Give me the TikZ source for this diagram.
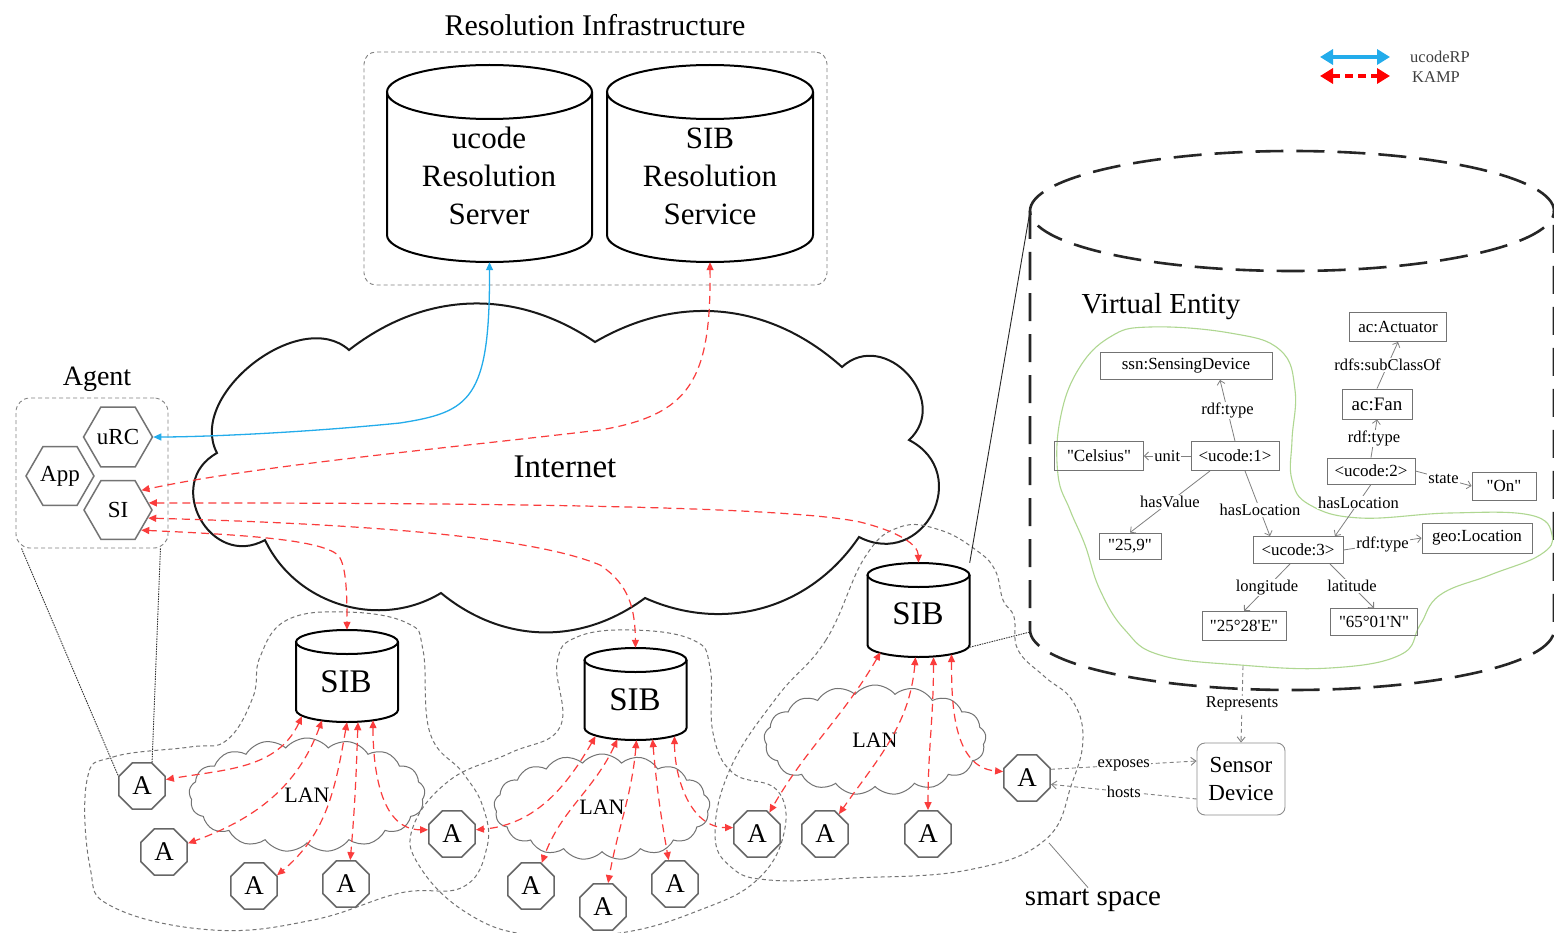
\documentclass[tikz,border=0pt]{standalone}
\usepackage{fontspec}
\setmainfont{Liberation Serif}[Ligatures=TeXOff]
\usetikzlibrary{shapes.geometric,shapes.symbols,arrows.meta,calc}
\definecolor{kred}{RGB}{250,60,60}
\definecolor{kblue}{RGB}{35,172,235}
\definecolor{vgreen}{RGB}{175,215,145}
\newcommand{\fsz}[1]{\fontsize{#1}{#1}\selectfont}
% name, cx, top-ellipse centre y (px), rx, distance between ellipse centres, ry, style
\newcommand{\dbcyl}[7]{%
  \node[inner sep=0pt, minimum width=#4*2pt, minimum height=(#5+2*#6)*1pt] (#1) at (#2,{-(#3+#5/2)}) {};
  \draw[#7] (#2-#4,-#3) -- (#2-#4,{-(#3+#5)}) arc[start angle=180,end angle=360,x radius=#4pt,y radius=#6pt] -- (#2+#4,-#3);
  \draw[#7] (#2,-#3) ellipse[x radius=#4pt,y radius=#6pt];
}
\tikzset{
  cylstyle/.style={line width=2pt, draw=black},
  vecyl/.style={line width=2.6pt, draw=black!85, dash pattern=on 28pt off 13pt},
  kamp/.style={draw=kred, line width=1.2pt, dash pattern=on 8pt off 5pt, {Triangle[length=8pt,width=7pt]}-{Triangle[length=8pt,width=7pt]}},
  ucrp/.style={draw=kblue, line width=1.3pt, {Triangle[length=8pt,width=7pt]}-{Triangle[length=8pt,width=7pt]}},
  blob/.style={draw=black!55, line width=1pt, dash pattern=on 4pt off 3pt},
  octa/.style={regular polygon, regular polygon sides=8, draw=black!60, line width=1.6pt, minimum size=50pt, inner sep=0pt, font=\fsz{27}},
  hexa/.style={regular polygon, regular polygon sides=6, draw=black!55, line width=1.5pt, minimum size=68pt, inner sep=0pt, font=\fsz{23}},
  lan/.style={cloud, cloud puffs=17, cloud puff arc=100, cloud ignores aspect, draw=black!55, line width=1pt, font=\fsz{22}},
  vebox/.style={draw=black!55, line width=0.9pt, inner sep=0pt, font=\fsz{17}},
  vedge/.style={draw=black!50, line width=0.8pt, -{Straight Barb[length=4pt,width=8pt]}},
  velab/.style={fill=white, inner sep=1pt, font=\fsz{16.5}},
  gdash/.style={draw=black!50, line width=0.9pt, dash pattern=on 4pt off 3pt, -{Straight Barb[length=5pt,width=8pt]}},
  glab/.style={fill=white, inner sep=1pt, font=\fsz{16.5}},
  tlink/.style={draw=black!80, line width=0.9pt, dash pattern=on 1.5pt off 1pt},
  title/.style={inner sep=0pt},
}
\begin{document}
\begin{tikzpicture}[x=1pt,y=1pt]
\useasboundingbox (0,0) rectangle (1554,-933);
\clip (0,0) rectangle (1554,-933);
\fill[white] (0,0) rectangle (1554,-933);

% ---------- Resolution infrastructure ----------
\node[title, font=\fsz{30}] (restitle) at (595,-25) {Resolution Infrastructure};
\node[draw=black!50, line width=0.9pt, dash pattern=on 4pt off 3pt, rounded corners=12pt, minimum width=463pt, minimum height=233pt] (resbox) at (595.5,-168.5) {};
\dbcyl{ucs}{489.5}{92}{102.5}{143}{27}{cylstyle}
\dbcyl{sibrs}{710}{92}{103}{143}{27}{cylstyle}
\node[align=center, font=\fontsize{31}{38}\selectfont, inner sep=0pt] (ucstxt) at (489,-176) {ucode\\Resolution\\Server};
\node[align=center, font=\fontsize{31}{38}\selectfont, inner sep=0pt] (sibrstxt) at (710,-176) {SIB\\Resolution\\Service};

% ---------- Legend ----------
\coordinate (lbA) at (1320,-57); \coordinate (lbB) at (1390,-57);
\coordinate (lrA) at (1320,-76); \coordinate (lrB) at (1390,-76);
\draw[draw=kblue, line width=3.5pt, {Triangle[length=13pt,width=15pt]}-{Triangle[length=13pt,width=15pt]}] (lbA) -- (lbB);
\draw[draw=red, line width=4pt, dash pattern=on 8pt off 5pt, {Triangle[length=13pt,width=15pt]}-{Triangle[length=13pt,width=15pt]}] (lrA) -- (lrB);
\node[anchor=west, font=\fsz{16.5}, text=black!75, inner sep=0pt] (legu) at (1410,-57) {ucodeRP};
\node[anchor=west, font=\fsz{16.5}, text=black!75, inner sep=0pt] (legk) at (1412,-77) {KAMP};

% ---------- Agent ----------
\node[title, font=\fsz{28}] (agenttitle) at (97,-379) {Agent};
\node[draw=black!50, line width=0.9pt, dash pattern=on 4pt off 3pt, rounded corners=14pt, minimum width=152pt, minimum height=150pt] (agentbox) at (92,-473) {};
\node[hexa] (urc) at (118,-437) {uRC};
\node[hexa] (app) at (60,-476) {App};
\node[hexa] (si) at (118,-510) {SI};

% ---------- Internet cloud ----------
\draw[line width=2pt, draw=black!90] (217,-453) to[bend left=80] (349,-350) to[bend left=36] (595,-342) to[bend left=36] (842,-367) to[bend left=90, looseness=1.5] (909,-440) to[bend left=90, looseness=1.7] (859,-537) to[bend left=40] (645,-598) to[bend left=38] (441,-593) to[bend left=48] (265,-540) to[bend left=90, looseness=1.6] (217,-453) -- cycle;
\node[font=\fsz{33}] (inettxt) at (565,-467) {Internet};

% ---------- Smart spaces ----------
\draw[blob] plot[smooth cycle, tension=0.7] coordinates {(87,-780) (113,-757) (190,-747) (227,-740) (253,-697) (260,-657) (287,-620) (347,-612) (407,-623) (423,-650) (430,-733) (463,-773) (483,-807) (487,-847) (463,-887) (400,-893) (313,-920) (213,-930) (113,-907) (90,-867)};
\draw[blob] plot[smooth cycle, tension=0.7] coordinates {(557,-663) (577,-637) (633,-630) (693,-640) (710,-667) (713,-733) (733,-773) (777,-790) (784,-833) (757,-880) (700,-910) (620,-933) (530,-935) (467,-913) (420,-867) (413,-827) (450,-780) (510,-753) (560,-727)};
\draw[blob] plot[smooth cycle, tension=0.7] coordinates {(865,-557) (826,-640) (777,-697) (731,-767) (715,-833) (731,-867) (769,-880) (853,-878) (968,-870) (1045,-840) (1072,-783) (1083,-737) (1072,-700) (1045,-677) (1018,-650) (1014,-617) (1003,-600) (995,-570) (976,-550) (940,-530) (900,-527)};

% ---------- LAN clouds ----------
\node[lan, minimum width=236pt, minimum height=114pt] (lan1) at (307,-795) {LAN};
\node[lan, minimum width=216pt, minimum height=106pt] (lan2) at (602,-807) {LAN};
\node[lan, minimum width=222pt, minimum height=110pt] (lan3) at (875,-740) {LAN};

% ---------- SIBs ----------
\dbcyl{sib1}{347}{642}{51}{68}{12}{cylstyle}
\dbcyl{sib2}{635.5}{660}{51}{68}{12}{cylstyle}
\dbcyl{sib3}{918.5}{575}{51}{70}{12}{cylstyle}
\node[font=\fsz{33}, inner sep=0pt] (sib1txt) at (346,-682) {SIB};
\node[font=\fsz{33}, inner sep=0pt] (sib2txt) at (635,-700) {SIB};
\node[font=\fsz{33}, inner sep=0pt] (sib3txt) at (918,-614) {SIB};

% ---------- Agents (A) ----------
\node[octa] (a1) at (142,-786) {A};
\node[octa] (a2) at (164,-852) {A};
\node[octa] (a3) at (254,-886) {A};
\node[octa] (a4) at (346,-884) {A};
\node[octa] (a5) at (452,-834) {A};
\node[octa] (a6) at (531,-886) {A};
\node[octa] (a7) at (603,-907) {A};
\node[octa] (a8) at (675,-884) {A};
\node[octa] (a9) at (757,-834) {A};
\node[octa] (a10) at (825,-834) {A};
\node[octa] (a11) at (928,-834) {A};
\node[octa] (a12) at (1027,-778) {A};

% agent box to A
\draw[tlink] ($(agentbox.south west)+(6,0)$) -- (a1.157.5);
\draw[tlink] ($(agentbox.south east)+(-8,0)$) -- (a1.67.5);

% ---------- Big dashed cylinder (virtual entity store) ----------
\dbcyl{bigve}{1292}{211}{262}{419}{60}{vecyl}
\coordinate (vetl) at (1030,-211);
\coordinate (vebl) at (1030,-632);
\draw[draw=black!85, line width=0.9pt] (sib3.north east) -- (vetl);
\draw[tlink] ($(sib3.south east)+(0,10)$) -- (vebl);
\node[title, font=\fsz{29}] (vetitle) at (1161,-307) {Virtual Entity};

% green grouping
\draw[draw=vgreen, line width=1.1pt] plot[smooth cycle, tension=0.7] coordinates {(1150,-327) (1230,-333) (1280,-350) (1295,-390) (1292,-440) (1292,-480) (1310,-505) (1360,-518) (1450,-513) (1530,-515) (1552,-535) (1540,-555) (1490,-575) (1440,-595) (1420,-625) (1400,-655) (1330,-668) (1240,-665) (1160,-655) (1125,-630) (1100,-590) (1085,-545) (1070,-510) (1058,-475) (1060,-420) (1078,-370) (1110,-337)};

% VE nodes
\node[vebox, minimum width=97pt, minimum height=29pt] (act) at (1398,-327) {ac:Actuator};
\node[vebox, minimum width=172pt, minimum height=27pt] (ssn) at (1186,-366) {ssn:SensingDevice};
\node[vebox, minimum width=70pt, minimum height=30pt, font=\fsz{19}] (fan) at (1377,-404) {ac:Fan};
\node[vebox, minimum width=89pt, minimum height=29pt] (cel) at (1099,-456) {"Celsius"};
\node[vebox, minimum width=88pt, minimum height=29pt] (u1) at (1235,-456) {<ucode:1>};
\node[vebox, minimum width=88pt, minimum height=26pt] (u2) at (1371,-471) {<ucode:2>};
\node[vebox, minimum width=64pt, minimum height=28pt] (on) at (1504,-486) {"On"};
\node[vebox, minimum width=62pt, minimum height=26pt] (v259) at (1130,-546) {"25,9"};
\node[vebox, minimum width=90pt, minimum height=27pt] (u3) at (1298,-550) {<ucode:3>};
\node[vebox, minimum width=110pt, minimum height=30pt] (geo) at (1477,-538) {geo:Location};
\node[vebox, minimum width=84pt, minimum height=29pt] (lon) at (1244,-626) {"25°28'E"};
\node[vebox, minimum width=87pt, minimum height=27pt] (lat) at (1374,-622) {"65°01'N"};

% VE edges
\draw[vedge] (u1.north) -- node[velab]{rdf:type} ($(ssn.south)+(34,0)$);
\draw[vedge] (u1.west) -- node[velab]{unit} (cel.east);
\draw[vedge] ($(u1.south)+(-25,0)$) -- node[velab]{hasValue} (v259.north);
\draw[vedge] ($(u1.south)+(10,0)$) -- node[velab, pos=0.6]{hasLocation} ($(u3.north)+(-28,0)$);
\draw[vedge] (fan.north) -- node[velab]{rdfs:subClassOf} (act.south);
\draw[vedge] (u2.north) -- node[velab]{rdf:type} (fan.south);
\draw[vedge] (u2.east) -- node[velab]{state} (on.west);
\draw[vedge] (u2.south) -- node[velab, pos=0.35]{hasLocation} ($(u3.north)+(37,0)$);
\draw[vedge] (u3.east) -- node[velab]{rdf:type} (geo.west);
\draw[vedge] ($(u3.south)+(-8,0)$) -- node[velab]{longitude} (lon.north);
\draw[vedge] ($(u3.south)+(32,0)$) -- node[velab]{latitude} (lat.north);

% ---------- Sensor device ----------
\node[draw=black!45, line width=0.9pt, rounded corners=8pt, minimum width=88pt, minimum height=72pt, align=center, font=\fontsize{23}{28}\selectfont] (sensor) at (1241,-779) {Sensor\\Device};
\coordinate (vebot) at (1243,-666);
\draw[gdash] (vebot) -- node[glab, pos=0.5]{Represents} (sensor.north);
\draw[gdash] (a12.20) -- node[glab]{exposes} ($(sensor.west)+(0,18)$);
\draw[gdash] ($(sensor.west)+(0,-20)$) -- node[glab]{hosts} (a12.-15);

% smart space label
\coordinate (ssp) at (1049,-843);
\node[font=\fsz{29}, inner sep=1pt] (sstext) at (1093,-900) {smart space};
\draw[draw=black!50, line width=0.8pt] (ssp) -- ($(sstext.north)+(-5,0)$);

% ---------- ucodeRP connector ----------
\draw[ucrp] (ucs.south) .. controls (490,-400) and (470,-412) .. (400,-423) .. controls (300,-433) and (200,-437) .. (urc.east);

% ---------- KAMP connectors (Internet) ----------
\draw[kamp] (sibrs.south) .. controls (711,-380) and (690,-415) .. (600,-430) .. controls (450,-448) and (260,-465) .. (si.40);
\draw[kamp] (si.13) .. controls (450,-503) and (780,-505) .. (860,-522) .. controls (900,-532) and (918,-545) .. (sib3.north);
\draw[kamp] (si.-15) .. controls (400,-525) and (540,-540) .. (600,-565) .. controls (630,-585) and (635,-610) .. (sib2.north);
\draw[kamp] (si.-41) .. controls (250,-535) and (320,-540) .. (338,-555) .. controls (347,-565) and (347,-600) .. (sib1.north);

% ---------- KAMP connectors (LAN 1) ----------
\draw[kamp] ($(sib1.south)+(-45,6)$) to[out=-115,in=10] (a1.15);
\draw[kamp] ($(sib1.south)+(-25,2)$) to[out=-110,in=20] (a2.20);
\draw[kamp] (sib1.south) to[out=-100,in=40] (a3.25);
\draw[kamp] ($(sib1.south)+(11,0)$) to[out=-92,in=85] (a4.80);
\draw[kamp] ($(sib1.south)+(26,2)$) to[out=-90,in=180] (a5.170);

% ---------- KAMP connectors (LAN 2) ----------
\draw[kamp] ($(sib2.south)+(-40,4)$) to[out=-120,in=5] (a5.10);
\draw[kamp] ($(sib2.south)+(-18,1)$) to[out=-115,in=70] (a6.65);
\draw[kamp] ($(sib2.south)+(1,0)$) to[out=-95,in=80] (a7.78);
\draw[kamp] ($(sib2.south)+(17,1)$) to[out=-85,in=100] (a8.105);
\draw[kamp] ($(sib2.south)+(39,4)$) to[out=-90,in=180] (a9.165);

% ---------- KAMP connectors (LAN 3) ----------
\draw[kamp] ($(sib3.south)+(-38,5)$) to[out=-120,in=60] (a9.60);
\draw[kamp] ($(sib3.south)+(-3,0)$) to[out=-95,in=55] (a10.55);
\draw[kamp] ($(sib3.south)+(15,0)$) to[out=-90,in=90] (a11.north);
\draw[kamp] ($(sib3.south)+(33,3)$) to[out=-90,in=175] (a12.165);
\end{tikzpicture}
\end{document}
